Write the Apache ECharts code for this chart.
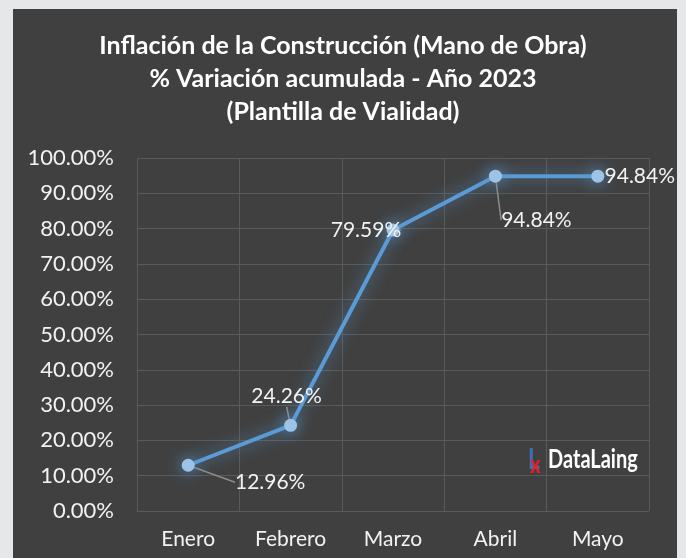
<!DOCTYPE html>
<html>
<head>
<meta charset="utf-8">
<script src="https://cdn.jsdelivr.net/npm/echarts@6/dist/echarts.min.js"></script>
<style>
  html, body { margin: 0; padding: 0; background: #e6e7e9; }
  #chart { width: 686px; height: 558px; }
</style>
</head>
<body>
<div id="chart"></div>
<script>
  // datos del gráfico
  const meses = ["Enero", "Febrero", "Marzo", "Abril", "Mayo"];
  const variacion = [12.96, 24.26, 79.59, 94.84, 94.84];
  // desplazamiento de cada etiqueta respecto al punto
  const etiquetaDx = [82, -4, -27, 41, 42];
  const etiquetaDy = [17, -29, 0, 44, 0];

  const font = 'Lato, "Open Sans", sans-serif';
  const chart = echarts.init(document.getElementById("chart"));

  chart.setOption({
    backgroundColor: "transparent",
    graphic: [
      {
        type: "rect",
        shape: { x: 13, y: 9, width: 664, height: 560 },
        style: { fill: "#404040" },
        z: -10,
      },
      {
        type: "text",
        x: 528,
        y: 446,
        scaleX: 0.8,
        style: { text: "L", fill: "#3d6fb6", font: "bold 28px " + font },
      },
      {
        type: "text",
        x: 530,
        y: 453,
        scaleX: 0.85,
        style: { text: "x", fill: "#e8202a", font: "bold 24px " + font },
      },
      {
        type: "text",
        x: 548,
        y: 446,
        scaleX: 0.74,
        style: { text: "DataLaing", fill: "#ffffff", font: "bold 27px " + font },
      },
    ],
    title: {
      text: "Inflación de la Construcción (Mano de Obra)\n% Variación acumulada - Año 2023\n(Plantilla de Vialidad)",
      left: "center",
      top: 24,
      textStyle: {
        color: "#ffffff",
        fontFamily: font,
        fontWeight: "bold",
        fontSize: 25,
        lineHeight: 33,
      },
    },
    grid: {
      left: 137,
      right: 37,
      top: 158,
      bottom: 47,
      containLabel: false,
    },
    xAxis: {
      type: "category",
      data: meses,
      boundaryGap: true,
      axisLine: { show: false },
      axisTick: { show: false },
      axisLabel: {
        color: "#f2f2f2",
        fontFamily: font,
        fontSize: 21,
        margin: 18,
      },
      splitLine: { show: true, lineStyle: { color: "#5a5a5a", width: 1 } },
    },
    yAxis: {
      type: "value",
      min: 0,
      max: 100,
      interval: 10,
      axisLine: { show: false },
      axisTick: { show: false },
      axisLabel: {
        color: "#f2f2f2",
        fontFamily: font,
        fontSize: 22,
        margin: 23,
        formatter: (v) => v.toFixed(2) + "%",
      },
      splitLine: { lineStyle: { color: "#5a5a5a", width: 1 } },
    },
    series: [
      {
        type: "line",
        data: variacion,
        symbol: "circle",
        symbolSize: 13,
        itemStyle: {
          color: "#9dc3e6",
          shadowBlur: 16,
          shadowColor: "rgba(91,155,213,1)",
        },
        lineStyle: {
          color: "#5b9bd5",
          width: 4,
          shadowBlur: 16,
          shadowColor: "rgba(91,155,213,0.8)",
        },
        label: {
          show: true,
          position: "inside",
          color: "#f2f2f2",
          fontFamily: font,
          fontSize: 21,
          formatter: (p) => p.value.toFixed(2) + "%",
        },
        labelLayout: (p) => ({
          dx: etiquetaDx[p.dataIndex],
          dy: etiquetaDy[p.dataIndex],
        }),
        labelLine: {
          show: true,
          lineStyle: { color: "#8c8c8c", width: 1.5 },
        },
        emphasis: { disabled: true },
      },
    ],
  });
</script>
</body>
</html>
